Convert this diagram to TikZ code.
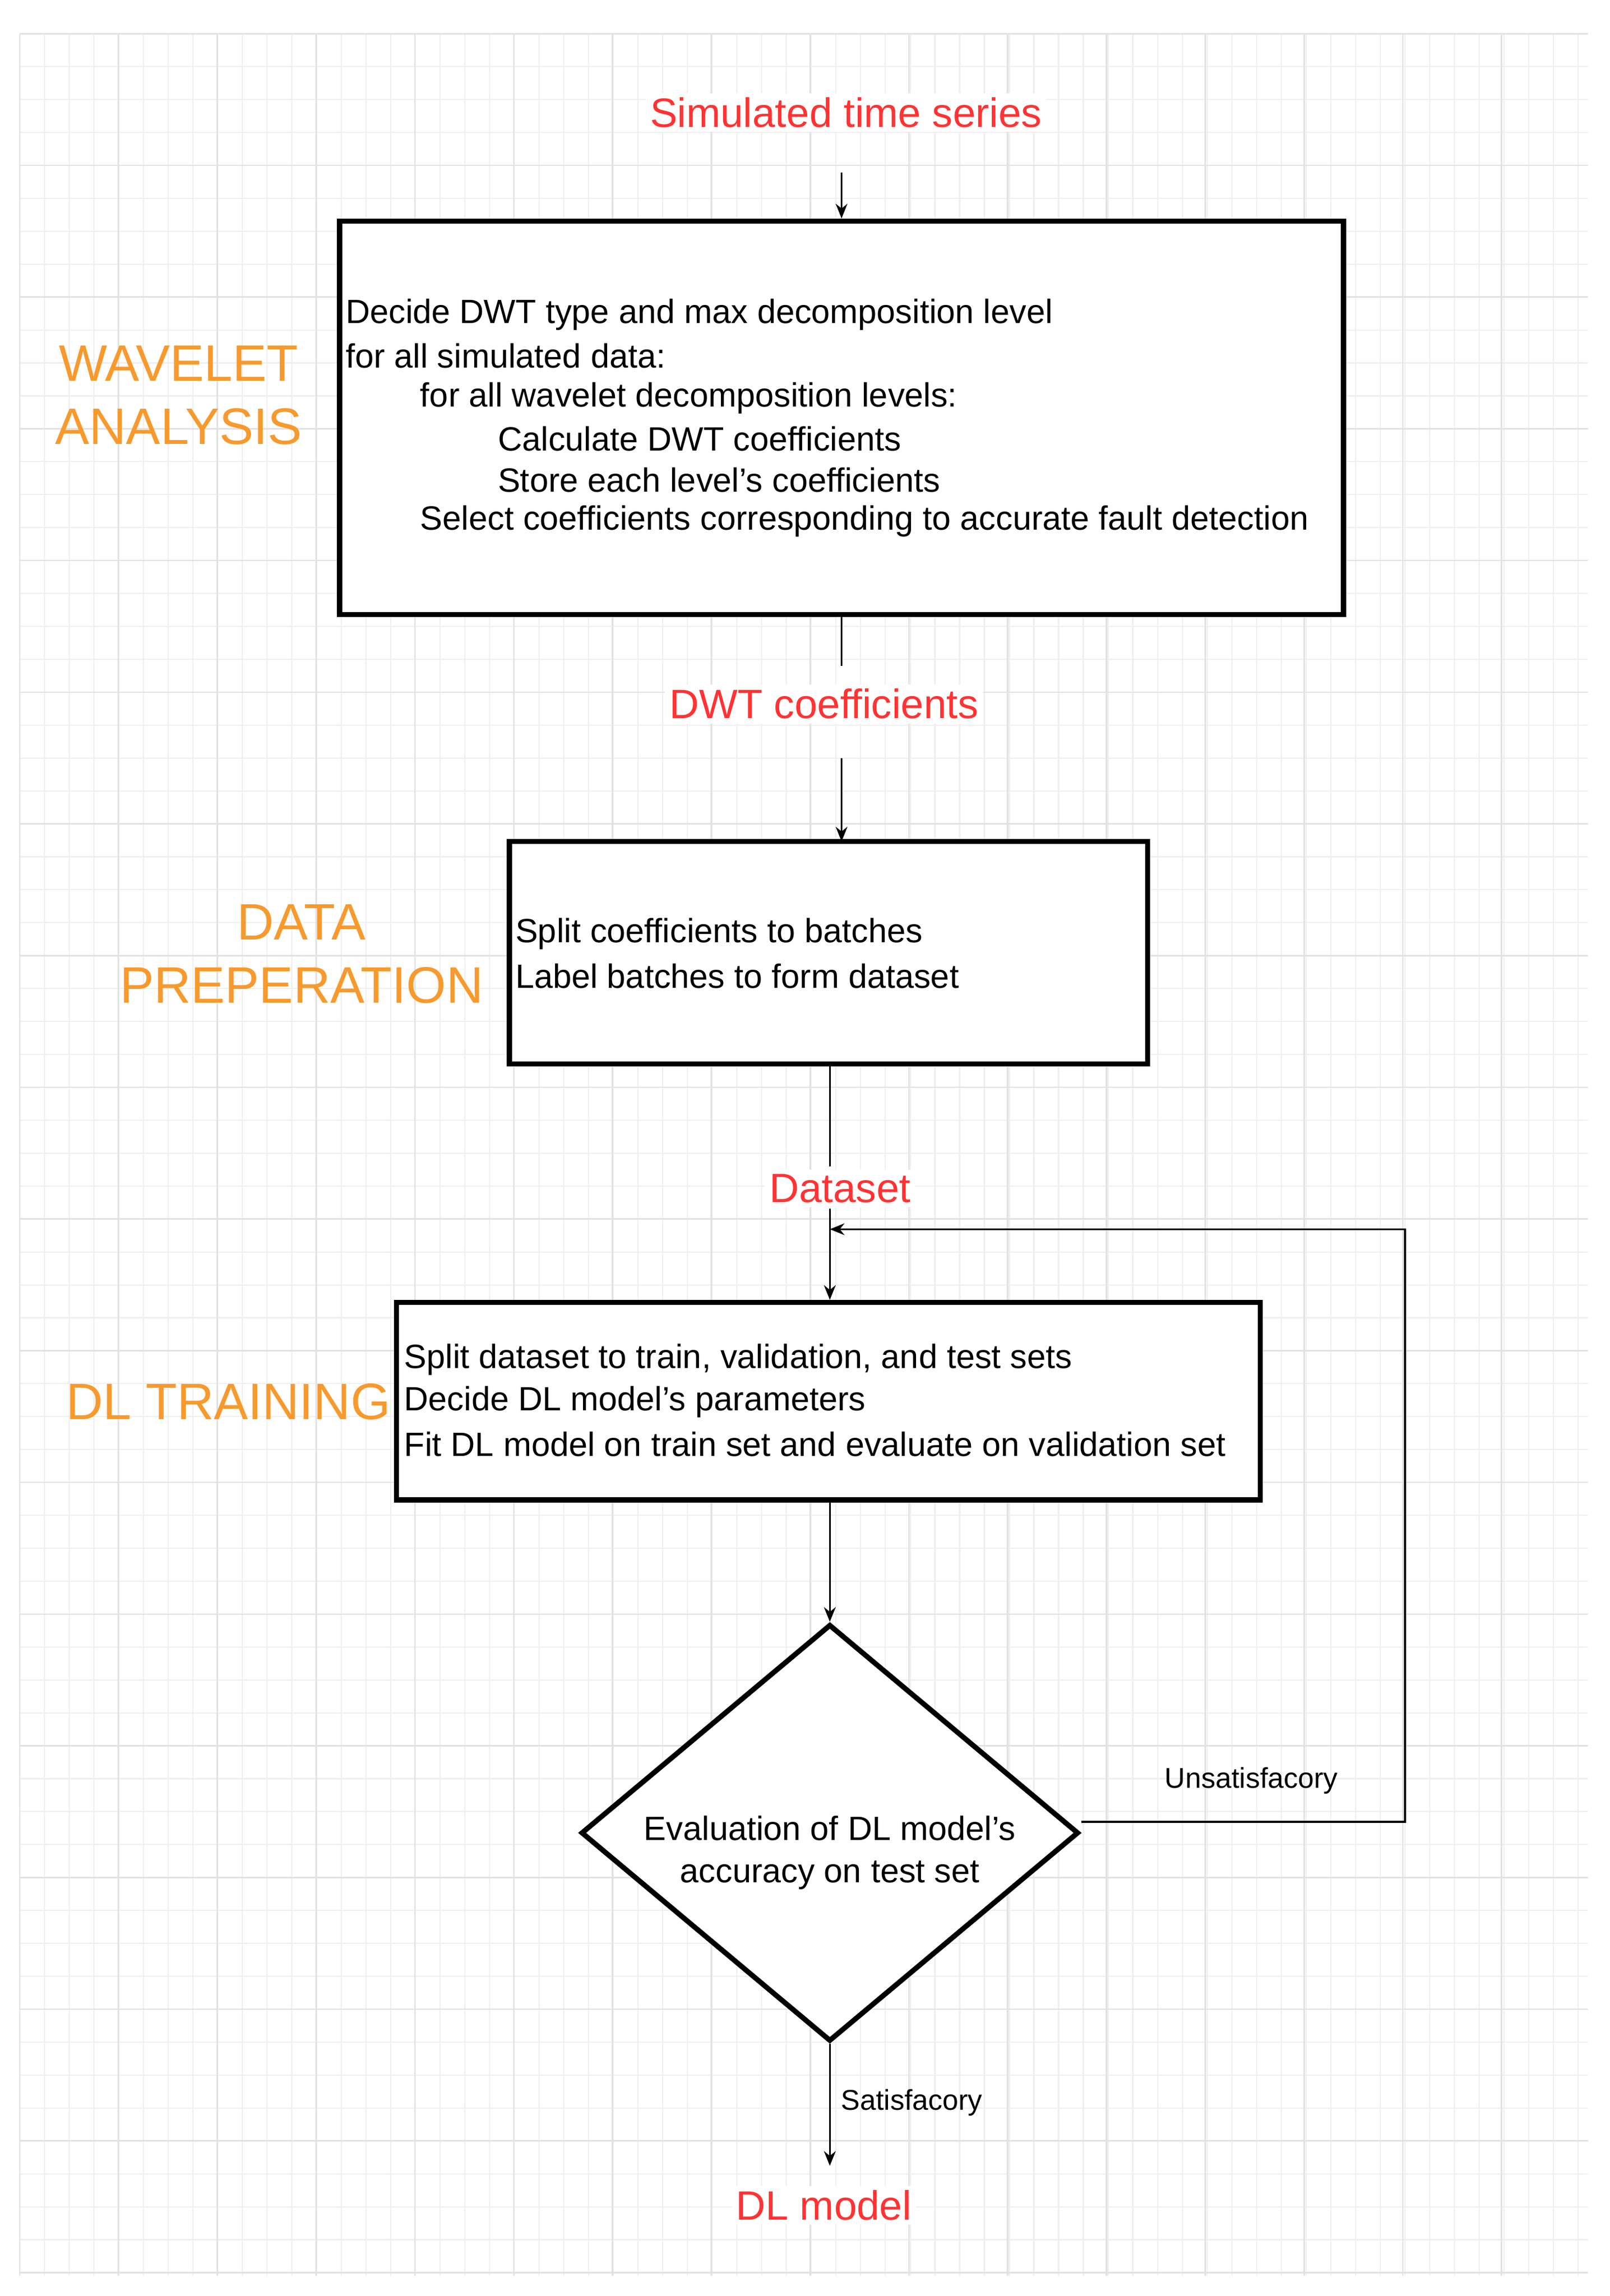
\documentclass[tikz,border=0pt]{standalone}
\usepackage{fontspec}
\setmainfont{Liberation Sans}
\usetikzlibrary{shapes.geometric,arrows.meta}
\definecolor{lblred}{HTML}{FF3333}
\definecolor{lblorange}{HTML}{F79A2E}
\definecolor{gridminor}{HTML}{EFEFEF}
\definecolor{gridmajor}{HTML}{E2E2E2}
\begin{document}
\begin{tikzpicture}[x=1pt,y=-1pt,
  box/.style={draw,line width=3.5pt,inner sep=0pt},
  txt/.style={font=\fontsize{23}{28}\selectfont,align=left,anchor=west,inner sep=0pt},
  red/.style={text=lblred,font=\fontsize{28}{30}\selectfont,fill=white,inner sep=3pt},
  phase/.style={text=lblorange,font=\fontsize{35}{43}\selectfont,align=center},
  small/.style={font=\fontsize{19.5}{20}\selectfont,inner sep=1pt},
  arr/.style={-{Stealth[length=10pt,width=8pt]},line width=1.2pt},
  ln/.style={line width=1.2pt}]
\useasboundingbox (0,0) rectangle (1100,1569);
% grid
\foreach \x in {13.5,30.4,...,1090} \draw[gridminor,line width=0.8pt] (\x,23) -- (\x,1555);
\foreach \y in {23,45.5,...,1560} \draw[gridminor,line width=0.8pt] (13.5,\y) -- (1085,\y);
\foreach \x in {13.5,81,...,1090} \draw[gridmajor,line width=1pt] (\x,23) -- (\x,1555);
\foreach \y in {23,113,...,1560} \draw[gridmajor,line width=1pt] (13.5,\y) -- (1085,\y);
% boxes
\node[box,fill=white,minimum width=686pt,minimum height=269pt] (b1) at (575,285.5) {};
\node[box,fill=white,minimum width=436pt,minimum height=152pt] (b2) at (566,651) {};
\node[box,fill=white,minimum width=590pt,minimum height=135pt] (b3) at (566,957.5) {};
\node[draw,line width=3.5pt,fill=white,diamond,minimum width=340pt,minimum height=285pt,inner sep=0pt] (d) at (567,1252.5) {};
% box texts
\node[txt] (t1) at (236,215) {Decide DWT type and max decomposition level};
\node[txt] (t2) at (236,243) {for all simulated data:};
\node[txt] (t3) at (287,272) {for all wavelet decomposition levels:};
\node[txt] (t4) at (340,300) {Calculate DWT coefficients};
\node[txt] (t5) at (340,328) {Store each level's coefficients};
\node[txt] (t6) at (287,356) {Select coefficients corresponding to accurate fault detection};
\node[txt] (u1) at (352,638) {Split coefficients to batches};
\node[txt] (u2) at (352,667) {Label batches to form dataset};
\node[txt] (v1) at (276,929) {Split dataset to train, validation, and test sets};
\node[txt] (v2) at (276,958) {Decide DL model's parameters};
\node[txt] (v3) at (276,987) {Fit DL model on train set and evaluate on validation set};
\node[font=\fontsize{23}{29}\selectfont,align=center] (dt) at (567,1266) {Evaluation of DL model's\\accuracy on test set};
% phase labels
\node[phase] (p1) at (122,270) {WAVELET\\ANALYSIS};
\node[phase] (p2) at (206,652) {DATA\\PREPERATION};
\node[phase] (p3) at (156,958) {DL TRAINING};
% red labels
\node[red] (sim) at (578,77) {Simulated time series};
\node[red] (dwt) at (563,481) {DWT coefficients};
\node[red] (ds) at (574,812) {Dataset};
\node[red] (dl) at (563,1507) {DL model};
% connectors
\coordinate (s0) at (575,118);
\draw[arr] (s0) -- (b1.north);
\draw[ln] (b1.south) -- (575,455);
\draw[arr] (575,518) -- (575,575);
\draw[ln] (b2.south -| 567,0) -- (567,797);
\coordinate (fb) at (567,840);
\draw[arr] (567,826) -- (b3.north -| 567,0);
\draw[arr] (b3.south -| 567,0) -- (d.north);
\coordinate (r1) at (960,1245);
\coordinate (r2) at (960,840);
\draw[arr] (d.east |- r1) -- (r1) -- (r2) -- (fb);
\node[small] (uns) at (855,1217) {Unsatisfacory};
\coordinate (dlt) at (567,1480);
\draw[arr] (d.south) -- (dlt);
\node[small] (sat) at (623,1437) {Satisfacory};
\end{tikzpicture}
\end{document}
